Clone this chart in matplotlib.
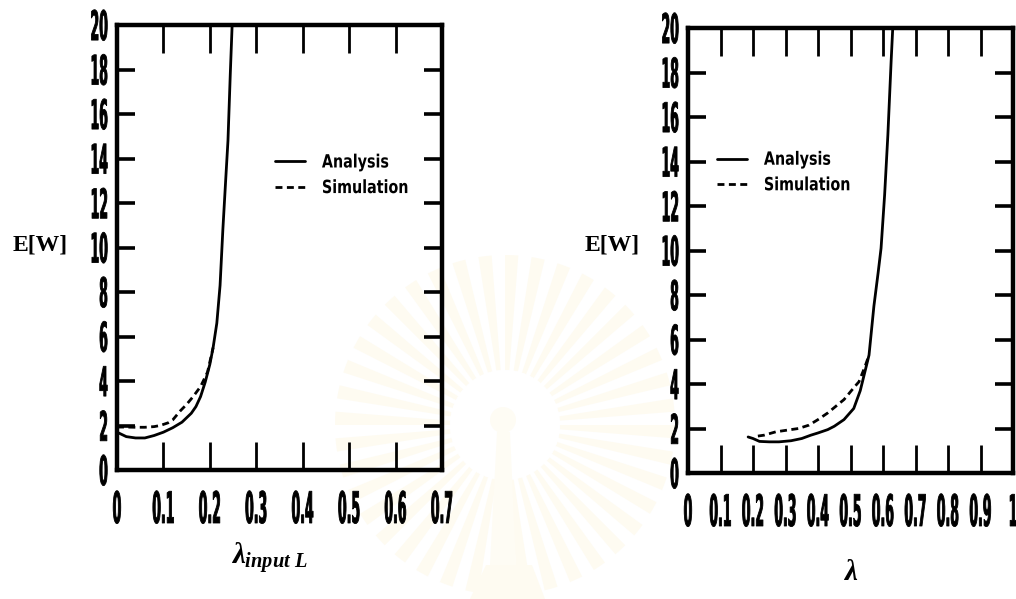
import numpy as np
import matplotlib
matplotlib.use('Agg')
import matplotlib.pyplot as plt
from matplotlib import patheffects
from matplotlib.patches import Wedge, Circle, Polygon
from matplotlib.transforms import Affine2D

# E[W] against arrival rate, left panel (lambda_input L)
lam_in_analysis = [0.0, 0.02, 0.04, 0.06, 0.08, 0.10, 0.12, 0.14, 0.16, 0.17, 0.18,
                   0.19, 0.20, 0.207, 0.215, 0.222, 0.228, 0.234, 0.239, 0.244, 0.248]
ew_in_analysis = [1.70, 1.50, 1.44, 1.44, 1.55, 1.70, 1.90, 2.15, 2.55, 2.85, 3.30,
                  3.95, 4.75, 5.50, 6.60, 8.30, 10.8, 13.0, 14.8, 17.8, 20.0]
lam_in_sim = [0.0, 0.02, 0.04, 0.06, 0.08, 0.093, 0.11, 0.12, 0.136, 0.15, 0.164,
              0.18, 0.195, 0.207]
ew_in_sim = [1.93, 1.93, 1.92, 1.92, 1.95, 2.00, 2.12, 2.25, 2.65, 2.95, 3.30,
             3.75, 4.40, 5.50]

# right panel (lambda)
lam_analysis = [0.185, 0.20, 0.22, 0.25, 0.28, 0.317, 0.35, 0.378, 0.40, 0.43, 0.45,
                0.48, 0.51, 0.53, 0.557, 0.572, 0.585, 0.594, 0.605, 0.615, 0.625, 0.63]
ew_analysis = [1.62, 1.55, 1.42, 1.40, 1.40, 1.45, 1.55, 1.70, 1.80, 1.95, 2.10,
               2.40, 2.90, 3.70, 5.30, 7.50, 9.00, 10.1, 12.5, 15.2, 18.5, 20.0]
lam_sim = [0.215, 0.234, 0.27, 0.307, 0.34, 0.372, 0.40, 0.43, 0.455, 0.48, 0.514,
           0.526, 0.545, 0.557]
ew_sim = [1.66, 1.70, 1.85, 1.93, 2.00, 2.15, 2.40, 2.70, 3.00, 3.30, 3.90,
          4.10, 4.80, 5.30]

left_xticks = [0.0, 0.1, 0.2, 0.3, 0.4, 0.5, 0.6, 0.7]
left_xlabels = ['0', '0.1', '0.2', '0.3', '0.4', '0.5', '0.6', '0.7']
right_xticks = [0.0, 0.1, 0.2, 0.3, 0.4, 0.5, 0.6, 0.7, 0.8, 0.9, 1.0]
right_xlabels = ['0', '0.1', '0.2', '0.3', '0.4', '0.5', '0.6', '0.7', '0.8', '0.9', '1']
yticks = [0, 2, 4, 6, 8, 10, 12, 14, 16, 18, 20]

plt.rcParams['mathtext.fontset'] = 'custom'
plt.rcParams['mathtext.it'] = 'Liberation Serif:italic:bold'
plt.rcParams['mathtext.rm'] = 'Liberation Serif:bold'


class TallText(patheffects.AbstractPathEffect):
    """Stretch text glyphs about an anchor point so a plain bold face reads tall and narrow."""

    def __init__(self, sx=1.0, sy=1.0, anchor=(0.5, 0.5), weight=0.0):
        super().__init__()
        self.sx, self.sy = sx, sy
        self.anchor = anchor
        self.weight = weight

    def draw_path(self, renderer, gc, tpath, affine, rgbFace=None):
        box = tpath.get_extents()
        px = box.x0 + self.anchor[0] * box.width
        py = box.y0 + self.anchor[1] * box.height
        stretch = Affine2D().translate(-px, -py).scale(self.sx, self.sy).translate(px, py)
        gc0 = renderer.new_gc()
        gc0.copy_properties(gc)
        if self.weight:
            gc0.set_linewidth(self.weight)
            gc0.set_foreground(rgbFace)
        renderer.draw_path(gc0, tpath, stretch + affine, rgbFace)
        gc0.restore()


def draw_panel(ax, xa, ya, xs, ys, xticks, xlabels, xlabel, legend_at, ylabel_at, xlabel_at):
    ax.set_facecolor('none')
    ax.plot(xa, ya, color='black', lw=2.0, solid_capstyle='round', label='Analysis')
    ax.plot(xs, ys, color='black', lw=2.0, dashes=(2.5, 1.6), label='Simulation')
    ax.set_xlim(xticks[0], xticks[-1])
    ax.set_ylim(0, 20)
    ax.set_xticks(xticks, xlabels)
    ax.set_yticks(yticks, [str(v) for v in yticks])
    for s in ax.spines.values():
        s.set_linewidth(3.2)
    ax.tick_params(axis='x', direction='in', length=20, width=2.0, top=True,
                   pad=23, labelsize=9.5)
    ax.tick_params(axis='y', direction='in', length=13, width=2.6, right=True,
                   pad=6.5, labelsize=9.5)
    for lab in ax.get_xticklabels():
        lab.set_fontweight('bold')
        lab.set_path_effects([TallText(sx=0.95, sy=3.3, anchor=(0.5, 0.5), weight=0.6)])
    for lab in ax.get_yticklabels():
        lab.set_fontweight('bold')
        lab.set_path_effects([TallText(sx=0.95, sy=3.1, anchor=(1.0, 0.5), weight=0.6)])

    ax.set_ylabel('E[W]', rotation=0, family='Liberation Serif', weight='bold',
                  fontsize=17, ha='center', va='center')
    ax.yaxis.set_label_coords(*ylabel_at)
    ax.set_xlabel(xlabel, fontsize=21, va='center')
    ax.xaxis.set_label_coords(*xlabel_at)

    leg = ax.legend(frameon=False, loc='upper left', bbox_to_anchor=legend_at,
                    handlelength=2.06, handletextpad=1.16, labelspacing=0.7,
                    borderpad=0, borderaxespad=0,
                    prop=dict(family='DejaVu Sans', weight='bold', size=10.5))
    for t in leg.get_texts():
        t.set_path_effects([TallText(sx=0.98, sy=1.25, anchor=(0.0, 0.5))])


fig = plt.figure(figsize=(10.16, 5.99), dpi=100)

# faint emblem printed behind the page
bg = fig.add_axes([0, 0, 1, 1], zorder=-1)
bg.set_xlim(0, 1016)
bg.set_ylim(599, 0)
bg.axis('off')
for a in np.arange(0, 360, 9.0):
    bg.add_patch(Wedge((505, 425), 170, a, a + 4.5, width=115,
                       facecolor='#fefbf1', edgecolor='none'))
bg.add_patch(Circle((505, 425), 55, facecolor='white', edgecolor='none'))
bg.add_patch(Circle((503, 420), 13, facecolor='#fefcf4', edgecolor='none'))
bg.add_patch(Polygon([(497, 432), (510, 432), (516, 565), (490, 565)],
                     facecolor='#fefcf4', edgecolor='none'))
bg.add_patch(Polygon([(486, 565), (532, 565), (545, 599), (470, 599)],
                     facecolor='#fefbf1', edgecolor='none'))

ax1 = fig.add_axes([117 / 1016, 129 / 599, 325 / 1016, 445 / 599])
draw_panel(ax1, lam_in_analysis, ew_in_analysis, lam_in_sim, ew_in_sim,
           left_xticks, left_xlabels, r'$\lambda_{input\ L}$',
           legend_at=(0.486, 0.709), ylabel_at=(-0.235, 0.506), xlabel_at=(0.47, -0.20))

ax2 = fig.add_axes([688 / 1016, 126 / 599, 325 / 1016, 445 / 599])
draw_panel(ax2, lam_analysis, ew_analysis, lam_sim, ew_sim,
           right_xticks, right_xlabels, r'$\lambda$',
           legend_at=(0.089, 0.722), ylabel_at=(-0.234, 0.512), xlabel_at=(0.5, -0.222))

fig.savefig('out.png', dpi=100)
